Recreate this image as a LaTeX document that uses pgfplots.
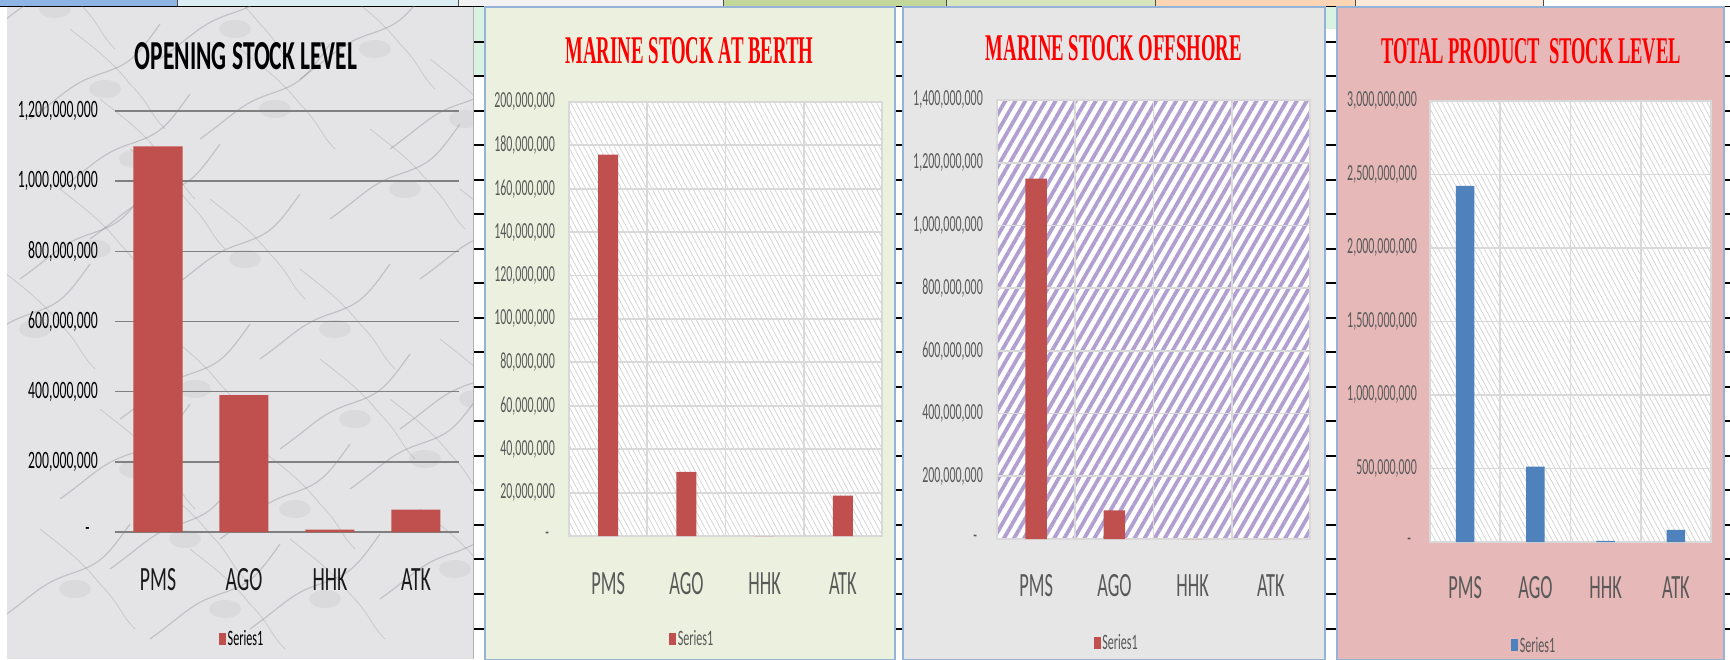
\documentclass[border=0pt]{standalone}
\usepackage{pgfplots}
\pgfplotsset{compat=1.18}
\usepackage{graphicx}
\usepackage{fontspec}
\setmainfont{Carlito}
\newfontfamily\ttlserif{Liberation Serif}
\usetikzlibrary{patterns.meta}

\definecolor{barred}{HTML}{C0504D}
\definecolor{barblue}{HTML}{4F81BD}
\definecolor{txtgray}{HTML}{595959}
\definecolor{gridlt}{HTML}{D9D9D9}
\definecolor{hatchc}{HTML}{D6D6D6}
\definecolor{stripe}{HTML}{B09FD0}
\definecolor{berthbg}{HTML}{EBF1DE}
\definecolor{pinkbg}{HTML}{E6B8B7}
\definecolor{granite}{HTML}{E6E6E6}
\definecolor{marble}{HTML}{E4E4E6}
\definecolor{vein}{HTML}{85858C}
\definecolor{panelborder}{HTML}{95B3D7}
\definecolor{mint}{HTML}{D9F2E1}

\newcommand\yA[1]{\scalebox{0.55}[1]{#1}}
\newcommand\yB[1]{\scalebox{0.52}[1]{#1}}
\newcommand\xA[1]{\scalebox{0.58}[1]{#1}}
\newcommand\xB[1]{\scalebox{0.54}[1]{#1}}
\newcommand\lgd[1]{\scalebox{0.55}[1]{#1}}

\pgfplotsset{
  panel/.style={
    scale only axis, ybar, xmin=0.5, xmax=4.5, ymin=0,
    xtick={1,2,3,4}, scaled y ticks=false,
    major tick length=0pt, minor tick length=0pt,
    tick style={draw=none},
    yticklabel style={anchor=east, inner sep=0pt},
    xticklabel style={anchor=center, inner sep=0pt},
    legend style={draw=none, fill=none, inner sep=0pt, anchor=center,
      nodes={inner sep=1.5pt}, font=\fontsize{22}{22}\selectfont},
  },
  framed/.style={
    axis line style={gridlt, line width=1.5pt},
    ymajorgrids, minor xtick={1.5,2.5,3.5}, xminorgrids,
    major grid style={gridlt, line width=1.8pt},
    minor grid style={gridlt, line width=1.8pt},
    xticklabels={\xB{PMS},\xB{AGO},\xB{HHK},\xB{ATK}},
    ticklabel style={text=txtgray},
    yticklabel style={font=\fontsize{23}{23}\selectfont},
    xticklabel style={font=\fontsize{34}{34}\selectfont},
    legend style={text=txtgray},
  },
}

\begin{document}
\begin{tikzpicture}
\begin{scope}[x=1pt,y=1pt]
\useasboundingbox (0,0) rectangle (1730,659);
\fill[white] (0,0) rectangle (1730,659);

% spreadsheet top row
\fill[fill={rgb,255:red,141;green,180;blue,226}] (0,653) rectangle (177,659);
\fill[fill={rgb,255:red,218;green,238;blue,243}] (177,653) rectangle (458,659);
\fill[fill={rgb,255:red,242;green,242;blue,242}] (458,653) rectangle (723,659);
\fill[fill={rgb,255:red,196;green,215;blue,155}] (723,653) rectangle (946,659);
\fill[fill={rgb,255:red,216;green,228;blue,188}] (946,653) rectangle (1155,659);
\fill[fill={rgb,255:red,252;green,213;blue,180}] (1155,653) rectangle (1355,659);
\fill[fill={rgb,255:red,253;green,233;blue,217}] (1355,653) rectangle (1543,659);
\foreach \xx in {177,458,723,946,1155,1355,1543}
  \draw[black!70, line width=1pt] (\xx,653) -- (\xx,659);
\draw[black, line width=1.5pt] (0,652.5) -- (1730,652.5);

% mint cells in gaps
\fill[mint] (473,584) rectangle (484,652);
\fill[mint] (1325,630) rectangle (1336,652);

% sheet row marks in gaps
\foreach \k in {0,...,17}{
  \pgfmathsetmacro\yy{659-(42+34.5*\k)}
  \foreach \a/\b in {473/484, 895/903, 1325/1337, 1724/1730}
    \draw[black, line width=2pt] (\a,\yy) -- (\b,\yy);
}

% panel 1 marble
\fill[marble] (7,0) rectangle (473,652);
\begin{scope}
\clip (7,0) rectangle (473,652);
\foreach \sx/\sy in {0/40, 60/160, -40/300, 90/420, 150/20, 220/120, 260/300, 330/440, 30/540, 200/520, 380/60, 400/230, 120/240, 300/580, -20/620, 420/380, 170/370, 60/470, 350/170, 250/30, 110/90, 280/210, 20/380, 390/510, 160/600}{
  \draw[vein, line width=1.2pt, opacity=0.35]
    (\sx,\sy) .. controls +(35,25) and +(-30,-10) .. +(70,45)
    .. controls +(30,10) and +(-25,-35) .. +(130,95);
  \draw[vein, line width=0.8pt, opacity=0.28]
    (\sx+40,\sy+90) .. controls +(25,-20) and +(-20,25) .. +(60,-55)
    .. controls +(20,-20) and +(-15,15) .. +(95,-100);
  \fill[vein, opacity=0.10] (\sx+75,\sy+30) ellipse (16 and 9);
}
\end{scope}
\draw[gray!60, line width=1pt] (473,0) -- (473,652);

% panel 2
\filldraw[fill=berthbg, draw=panelborder, line width=1.2pt] (485,-1) rectangle (895,652);
% panel 3
\filldraw[fill=granite, draw=panelborder, line width=1.2pt] (903,-1) rectangle (1325,652);
% panel 4
\filldraw[fill=pinkbg, draw=panelborder, line width=1.2pt] (1337,-1) rectangle (1724,652);
\end{scope}

% ---------------- chart 1
\begin{axis}[panel,
  at={(115pt,127pt)}, anchor=south west, width=344pt, height=421pt,
  ymax=1.2e9, ytick={0,2e8,4e8,6e8,8e8,1e9,1.2e9},
  yticklabels={\yA{-\hspace*{15pt}},\yA{200,000,000},\yA{400,000,000},\yA{600,000,000},\yA{800,000,000},\yA{1,000,000,000},\yA{1,200,000,000}},
  xticklabels={\xA{PMS},\xA{AGO},\xA{HHK},\xA{ATK}},
  axis line style={draw=none},
  ymajorgrids, major grid style={color={rgb,255:red,128;green,128;blue,128}, line width=1.4pt},
  yticklabel style={font=\fontsize{25}{25}\selectfont, text=black, xshift=-17pt},
  xticklabel style={font=\fontsize{34}{34}\selectfont, text=black!90, yshift=-48pt},
  bar width=49pt,
  legend style={at={(0.369,-0.254)}, text=black},
]
\addplot[fill=barred, draw=none,
  legend image code/.code={\fill[barred] (0pt,-6pt) rectangle (7pt,6pt);}]
  coordinates {(1,1.099e9) (2,3.90e8) (3,7e6) (4,6.4e7)};
\legend{\lgd{Series1}}
\end{axis}

% ---------------- chart 2
\begin{axis}[panel, framed,
  at={(569pt,123pt)}, anchor=south west, width=313pt, height=434pt,
  ymax=2e8, ytick={0,2e7,4e7,6e7,8e7,1e8,1.2e8,1.4e8,1.6e8,1.8e8,2e8},
  yticklabels={\yB{-\hspace*{11pt}},\yB{20,000,000},\yB{40,000,000},\yB{60,000,000},\yB{80,000,000},\yB{100,000,000},\yB{120,000,000},\yB{140,000,000},\yB{160,000,000},\yB{180,000,000},\yB{200,000,000}},
  yticklabel style={xshift=-14pt},
  xticklabel style={yshift=-48pt},
  axis background/.style={fill=white, postaction={pattern={Lines[angle=-62, distance=4.5pt, line width=0.8pt]}, pattern color=hatchc}},
  bar width=20pt,
  legend style={at={(0.393,-0.237)}},
]
\addplot[fill=barred, draw=none,
  legend image code/.code={\fill[barred] (0pt,-6pt) rectangle (7pt,6pt);}]
  coordinates {(1,1.758e8) (2,2.95e7) (3,0) (4,1.86e7)};
\legend{\lgd{Series1}}
\end{axis}

% ---------------- chart 3
\begin{axis}[panel, framed,
  at={(997pt,120pt)}, anchor=south west, width=313pt, height=439pt,
  ymax=1.4e9, ytick={0,2e8,4e8,6e8,8e8,1e9,1.2e9,1.4e9},
  yticklabels={\yB{-\hspace*{11pt}},\yB{200,000,000},\yB{400,000,000},\yB{600,000,000},\yB{800,000,000},\yB{1,000,000,000},\yB{1,200,000,000},\yB{1,400,000,000}},
  yticklabel style={xshift=-14pt},
  xticklabel style={yshift=-47pt},
  axis background/.style={fill=white, postaction={pattern={Lines[angle=60, distance=8.7pt, line width=3.8pt]}, pattern color=stripe}},
  bar width=21.7pt,
  legend style={at={(0.382,-0.237)}},
]
\addplot[fill=barred, draw=none,
  legend image code/.code={\fill[barred] (0pt,-6pt) rectangle (7pt,6pt);}]
  coordinates {(1,1.149e9) (2,9.1e7) (3,0) (4,0)};
\legend{\lgd{Series1}}
\end{axis}

% ---------------- chart 4
\begin{axis}[panel, framed,
  at={(1430pt,117pt)}, anchor=south west, width=281pt, height=441pt,
  ymax=3e9, ytick={0,5e8,1e9,1.5e9,2e9,2.5e9,3e9},
  yticklabels={\yB{-\hspace*{11pt}},\yB{500,000,000},\yB{1,000,000,000},\yB{1,500,000,000},\yB{2,000,000,000},\yB{2,500,000,000},\yB{3,000,000,000}},
  yticklabel style={xshift=-13pt},
  xticklabel style={yshift=-46pt},
  axis background/.style={fill=white, postaction={pattern={Lines[angle=-62, distance=4.5pt, line width=0.8pt]}, pattern color=hatchc}},
  bar width=18.7pt,
  legend style={at={(0.37,-0.234)}},
]
\addplot[fill=barblue, draw=none,
  legend image code/.code={\fill[barblue] (0pt,-6pt) rectangle (7pt,6pt);}]
  coordinates {(1,2.423e9) (2,5.13e8) (3,7e6) (4,8.3e7)};
\legend{\lgd{Series1}}
\end{axis}

% titles
\begin{scope}[x=1pt,y=1pt]
\node[inner sep=0pt, text=black] at (246,602.5) {\resizebox{222pt}{27pt}{\bfseries OPENING STOCK LEVEL}};
\node[inner sep=0pt, text=red] at (689.5,608) {\resizebox{248pt}{26pt}{\ttlserif\bfseries MARINE STOCK AT BERTH}};
\node[inner sep=0pt, text=red] at (1114,610.5) {\resizebox{256pt}{25pt}{\ttlserif\bfseries MARINE STOCK OFFSHORE}};
\node[inner sep=0pt, text=red] at (1531,607.5) {\resizebox{300pt}{25pt}{\ttlserif\bfseries TOTAL PRODUCT\ \ STOCK LEVEL}};
\end{scope}
\end{tikzpicture}
\end{document}
